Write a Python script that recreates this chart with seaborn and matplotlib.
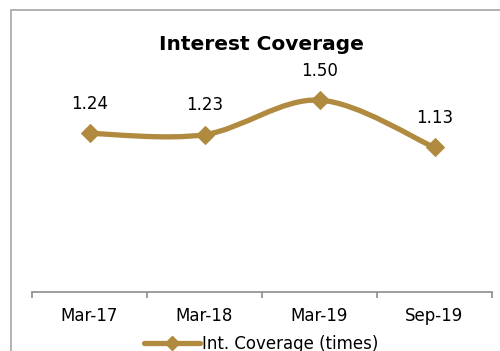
import numpy as np
import pandas as pd
import matplotlib
matplotlib.use("Agg")
import matplotlib.pyplot as plt
import seaborn as sns
from matplotlib.path import Path
from matplotlib.patches import PathPatch, Rectangle
from matplotlib.lines import Line2D

periods = ["Mar-17", "Mar-18", "Mar-19", "Sep-19"]
coverage = [1.24, 1.23, 1.50, 1.13]
series_name = "Int. Coverage (times)"
title = "Interest Coverage"

gold = "#B08A3E"
grey = "#8C8C8C"

sns.set_theme(style="white")
plt.rcParams["font.family"] = ["DejaVu Sans"]
plt.rcParams["text.color"] = "black"

df = pd.DataFrame({"period": periods, "x": np.arange(len(periods)), "value": coverage})

fig = plt.figure(figsize=(5.0, 3.51), dpi=100)
ax = fig.add_axes([0.064, 0.168, 0.92, 0.729])

# smoothed line like the spreadsheet chart (Catmull-Rom style Bezier through the points)
pts = df[["x", "value"]].to_numpy(dtype=float)
verts = [tuple(pts[0])]
codes = [Path.MOVETO]
for i in range(len(pts) - 1):
    p_prev = pts[max(i - 1, 0)]
    p0, p1 = pts[i], pts[i + 1]
    p_next = pts[min(i + 2, len(pts) - 1)]
    c1 = p0 + (p1 - p_prev) / 6.0
    c2 = p1 - (p_next - p0) / 6.0
    verts += [tuple(c1), tuple(c2), tuple(p1)]
    codes += [Path.CURVE4] * 3
ax.add_patch(PathPatch(Path(verts, codes), facecolor="none", edgecolor=gold,
                       lw=3.8, capstyle="round", zorder=2))

# markers via seaborn
sns.lineplot(data=df, x="x", y="value", ax=ax, color=gold, marker="D",
             markersize=9, markeredgecolor=gold, zorder=3, linestyle="none",
             legend=False)

for xi, v in zip(df["x"], df["value"]):
    ax.annotate(f"{v:.2f}", (xi, v), xytext=(0, 21), textcoords="offset points",
                ha="center", va="center", fontsize=12, color="black")

ax.set_xlim(-0.5, len(periods) - 0.5)
ax.set_ylim(0, 2.0)
ax.set_xticks(np.arange(-0.5, len(periods)), labels=[""] * (len(periods) + 1))
ax.set_xticks(df["x"], labels=periods, minor=True)
ax.tick_params(axis="x", which="major", length=4, width=1.2, color=grey, direction="out",
               bottom=True)
ax.tick_params(axis="x", which="minor", length=0, labelsize=12, pad=11, labelcolor="black")
ax.set_yticks([])
ax.set_xlabel("")
ax.set_ylabel("")
for side in ["left", "right", "top"]:
    ax.spines[side].set_visible(False)
ax.spines["bottom"].set_color(grey)
ax.spines["bottom"].set_linewidth(1.2)

fig.text(0.522, 0.872, title, ha="center", va="center", fontsize=14.5,
         fontweight="bold", color="black")

handle = Line2D([], [], color=gold, lw=3.8, marker="D", markersize=7,
                markeredgecolor=gold)
ax.legend([handle], [series_name], loc="center", bbox_to_anchor=(0.522, 0.02),
          bbox_transform=fig.transFigure, frameon=False, fontsize=12,
          handlelength=3.4, handletextpad=0.1, borderpad=0, labelcolor="black")

# outer chart border (cropped on right and bottom in the reference)
fig.patches.append(Rectangle((11 / 500, -0.1), 1.2, (351 - 10) / 351 + 0.1,
                             transform=fig.transFigure, fill=False,
                             edgecolor="#A6A6A6", lw=1.2, zorder=0))

fig.savefig("out.png", dpi=100)
